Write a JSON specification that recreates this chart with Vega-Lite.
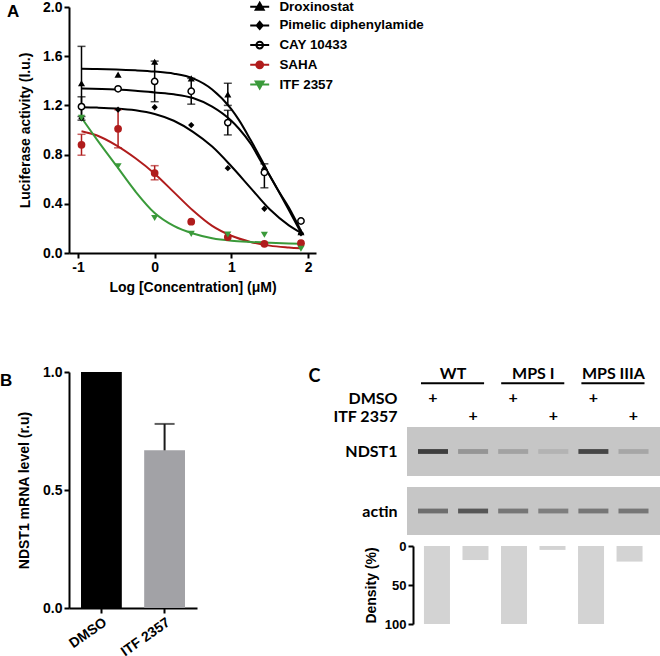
{
  "$schema": "https://vega.github.io/schema/vega-lite/v6.json",
  "padding": {"left": 0, "top": 0, "right": 0, "bottom": 0},
  "config": {
    "font": "Liberation Sans",
    "view": {"stroke": null},
    "axis": {"domainColor": "#000", "domainWidth": 2, "tickColor": "#000", "tickWidth": 2, "tickSize": 5, "labelColor": "#000", "labelFont": "Liberation Sans", "labelFontSize": 14, "labelFontWeight": "bold", "titleColor": "#000", "titleFont": "Liberation Sans", "titleFontSize": 14, "titleFontWeight": "bold", "grid": false, "labelPadding": 2},
    "title": {"color": "#000"}
  },
  "resolve": {"scale": {"color": "independent", "fill": "independent", "stroke": "independent", "shape": "independent", "opacity": "independent"}},
  "datasets": {
    "curves": [
      {"series": "Droxinostat", "x": -0.954, "y": 1.497}, {"series": "Droxinostat", "x": -0.75, "y": 1.496}, {"series": "Droxinostat", "x": -0.5, "y": 1.492}, {"series": "Droxinostat", "x": -0.25, "y": 1.485}, {"series": "Droxinostat", "x": 0, "y": 1.475}, {"series": "Droxinostat", "x": 0.25, "y": 1.458}, {"series": "Droxinostat", "x": 0.5, "y": 1.42}, {"series": "Droxinostat", "x": 0.75, "y": 1.33}, {"series": "Droxinostat", "x": 1.0, "y": 1.17}, {"series": "Droxinostat", "x": 1.1, "y": 1.08}, {"series": "Droxinostat", "x": 1.25, "y": 0.92}, {"series": "Droxinostat", "x": 1.4, "y": 0.75}, {"series": "Droxinostat", "x": 1.5, "y": 0.63}, {"series": "Droxinostat", "x": 1.6, "y": 0.52}, {"series": "Droxinostat", "x": 1.75, "y": 0.35}, {"series": "Droxinostat", "x": 1.908, "y": 0.165},
      {"series": "Pimelic diphenylamide", "x": -0.954, "y": 1.185}, {"series": "Pimelic diphenylamide", "x": -0.75, "y": 1.182}, {"series": "Pimelic diphenylamide", "x": -0.5, "y": 1.175}, {"series": "Pimelic diphenylamide", "x": -0.25, "y": 1.16}, {"series": "Pimelic diphenylamide", "x": 0, "y": 1.13}, {"series": "Pimelic diphenylamide", "x": 0.25, "y": 1.075}, {"series": "Pimelic diphenylamide", "x": 0.5, "y": 0.985}, {"series": "Pimelic diphenylamide", "x": 0.75, "y": 0.865}, {"series": "Pimelic diphenylamide", "x": 1.0, "y": 0.705}, {"series": "Pimelic diphenylamide", "x": 1.25, "y": 0.53}, {"series": "Pimelic diphenylamide", "x": 1.5, "y": 0.355}, {"series": "Pimelic diphenylamide", "x": 1.75, "y": 0.225}, {"series": "Pimelic diphenylamide", "x": 1.908, "y": 0.165},
      {"series": "CAY 10433", "x": -0.954, "y": 1.338}, {"series": "CAY 10433", "x": -0.5, "y": 1.33}, {"series": "CAY 10433", "x": -0.25, "y": 1.32}, {"series": "CAY 10433", "x": 0, "y": 1.305}, {"series": "CAY 10433", "x": 0.25, "y": 1.29}, {"series": "CAY 10433", "x": 0.5, "y": 1.26}, {"series": "CAY 10433", "x": 0.75, "y": 1.19}, {"series": "CAY 10433", "x": 1.0, "y": 1.075}, {"series": "CAY 10433", "x": 1.1, "y": 1.01}, {"series": "CAY 10433", "x": 1.25, "y": 0.89}, {"series": "CAY 10433", "x": 1.4, "y": 0.73}, {"series": "CAY 10433", "x": 1.5, "y": 0.63}, {"series": "CAY 10433", "x": 1.6, "y": 0.52}, {"series": "CAY 10433", "x": 1.75, "y": 0.37}, {"series": "CAY 10433", "x": 1.908, "y": 0.18},
      {"series": "SAHA", "x": -0.954, "y": 0.99}, {"series": "SAHA", "x": -0.75, "y": 0.955}, {"series": "SAHA", "x": -0.5, "y": 0.875}, {"series": "SAHA", "x": -0.25, "y": 0.77}, {"series": "SAHA", "x": 0, "y": 0.645}, {"series": "SAHA", "x": 0.25, "y": 0.495}, {"series": "SAHA", "x": 0.5, "y": 0.345}, {"series": "SAHA", "x": 0.75, "y": 0.22}, {"series": "SAHA", "x": 1.0, "y": 0.14}, {"series": "SAHA", "x": 1.25, "y": 0.09}, {"series": "SAHA", "x": 1.5, "y": 0.06}, {"series": "SAHA", "x": 1.75, "y": 0.045}, {"series": "SAHA", "x": 1.908, "y": 0.038},
      {"series": "ITF 2357", "x": -0.954, "y": 1.1}, {"series": "ITF 2357", "x": -0.75, "y": 0.92}, {"series": "ITF 2357", "x": -0.5, "y": 0.71}, {"series": "ITF 2357", "x": -0.25, "y": 0.5}, {"series": "ITF 2357", "x": 0, "y": 0.325}, {"series": "ITF 2357", "x": 0.25, "y": 0.22}, {"series": "ITF 2357", "x": 0.5, "y": 0.158}, {"series": "ITF 2357", "x": 0.75, "y": 0.12}, {"series": "ITF 2357", "x": 1.0, "y": 0.1}, {"series": "ITF 2357", "x": 1.25, "y": 0.09}, {"series": "ITF 2357", "x": 1.5, "y": 0.083}, {"series": "ITF 2357", "x": 1.75, "y": 0.078}, {"series": "ITF 2357", "x": 1.908, "y": 0.076}
    ],
    "pts": [
      {"series": "Droxinostat", "x": -0.954, "y": 1.38}, {"series": "Droxinostat", "x": -0.477, "y": 1.45}, {"series": "Droxinostat", "x": 0, "y": 1.555}, {"series": "Droxinostat", "x": 0.477, "y": 1.42}, {"series": "Droxinostat", "x": 0.954, "y": 1.29}, {"series": "Droxinostat", "x": 1.431, "y": 0.7}, {"series": "Droxinostat", "x": 1.908, "y": 0.17},
      {"series": "Pimelic diphenylamide", "x": -0.954, "y": 1.095}, {"series": "Pimelic diphenylamide", "x": -0.477, "y": 1.165}, {"series": "Pimelic diphenylamide", "x": 0, "y": 1.185}, {"series": "Pimelic diphenylamide", "x": 0.477, "y": 1.04}, {"series": "Pimelic diphenylamide", "x": 0.954, "y": 0.69}, {"series": "Pimelic diphenylamide", "x": 1.431, "y": 0.36}, {"series": "Pimelic diphenylamide", "x": 1.908, "y": 0.16},
      {"series": "CAY 10433", "x": -0.954, "y": 1.19}, {"series": "CAY 10433", "x": -0.477, "y": 1.335}, {"series": "CAY 10433", "x": 0, "y": 1.395}, {"series": "CAY 10433", "x": 0.477, "y": 1.315}, {"series": "CAY 10433", "x": 0.954, "y": 1.06}, {"series": "CAY 10433", "x": 1.431, "y": 0.655}, {"series": "CAY 10433", "x": 1.908, "y": 0.26},
      {"series": "SAHA", "x": -0.954, "y": 0.88}, {"series": "SAHA", "x": -0.477, "y": 1.01}, {"series": "SAHA", "x": 0, "y": 0.65}, {"series": "SAHA", "x": 0.477, "y": 0.255}, {"series": "SAHA", "x": 0.954, "y": 0.13}, {"series": "SAHA", "x": 1.431, "y": 0.075}, {"series": "SAHA", "x": 1.908, "y": 0.08},
      {"series": "ITF 2357", "x": -0.954, "y": 1.1}, {"series": "ITF 2357", "x": -0.477, "y": 0.705}, {"series": "ITF 2357", "x": 0, "y": 0.285}, {"series": "ITF 2357", "x": 0.477, "y": 0.155}, {"series": "ITF 2357", "x": 0.954, "y": 0.15}, {"series": "ITF 2357", "x": 1.431, "y": 0.148}, {"series": "ITF 2357", "x": 1.908, "y": 0.035}
    ],
    "errs": [
      {"series": "Droxinostat", "x": -0.954, "y": 1.38, "eup": 0.3, "edn": -0.3},
      {"series": "Droxinostat", "x": 0.954, "y": 1.29, "eup": 0.09, "edn": -0.09},
      {"series": "CAY 10433", "x": -0.954, "y": 1.19, "eup": 0.08, "edn": -0.08},
      {"series": "CAY 10433", "x": 0, "y": 1.395, "eup": 0.165, "edn": -0.165},
      {"series": "CAY 10433", "x": 0.477, "y": 1.315, "eup": 0.105, "edn": -0.105},
      {"series": "CAY 10433", "x": 0.954, "y": 1.06, "eup": 0.1, "edn": -0.1},
      {"series": "CAY 10433", "x": 1.431, "y": 0.655, "eup": 0.07, "edn": -0.125},
      {"series": "SAHA", "x": -0.954, "y": 0.88, "eup": 0.085, "edn": -0.085},
      {"series": "SAHA", "x": -0.477, "y": 1.01, "eup": 0.155, "edn": -0.155},
      {"series": "SAHA", "x": 0, "y": 0.65, "eup": 0.06, "edn": -0.055}
    ],
    "mrna": [
      {"cond": "DMSO", "value": 1.0},
      {"cond": "ITF 2357", "value": 0.668, "hi": 0.78}
    ],
    "lanes": [
      {"lane": 0, "group": "WT", "treat": "DMSO"},
      {"lane": 1, "group": "WT", "treat": "ITF 2357"},
      {"lane": 2, "group": "MPS I", "treat": "DMSO"},
      {"lane": 3, "group": "MPS I", "treat": "ITF 2357"},
      {"lane": 4, "group": "MPS IIIA", "treat": "DMSO"},
      {"lane": 5, "group": "MPS IIIA", "treat": "ITF 2357"}
    ],
    "gel": [
      {"gel": "NDST1", "lane": 0, "intensity": 0.85}, {"gel": "NDST1", "lane": 1, "intensity": 0.3}, {"gel": "NDST1", "lane": 2, "intensity": 0.22}, {"gel": "NDST1", "lane": 3, "intensity": 0.12}, {"gel": "NDST1", "lane": 4, "intensity": 0.8}, {"gel": "NDST1", "lane": 5, "intensity": 0.2},
      {"gel": "actin", "lane": 0, "intensity": 0.55}, {"gel": "actin", "lane": 1, "intensity": 0.7}, {"gel": "actin", "lane": 2, "intensity": 0.5}, {"gel": "actin", "lane": 3, "intensity": 0.45}, {"gel": "actin", "lane": 4, "intensity": 0.5}, {"gel": "actin", "lane": 5, "intensity": 0.5}
    ],
    "density": [
      {"lane": 0, "density": 100}, {"lane": 1, "density": 18}, {"lane": 2, "density": 100}, {"lane": 3, "density": 5}, {"lane": 4, "density": 100}, {"lane": 5, "density": 20}
    ]
  },
  "spacing": 71,
  "vconcat": [
    {
      "width": 247,
      "height": 246,
      "title": {"text": "A", "anchor": "start", "frame": "bounds", "orient": "top", "offset": -21, "dx": -11, "fontSize": 17, "fontWeight": "bold", "font": "Liberation Sans"},
      "encoding": {
        "x": {"field": "x", "type": "quantitative", "scale": {"domain": [-1.117, 2.104], "nice": false, "zero": false}, "axis": {"values": [-1, 0, 1, 2], "labelExpr": "'' + datum.value", "title": "Log [Concentration] (μM)", "titlePadding": 6}},
        "y": {"field": "y", "type": "quantitative", "scale": {"domain": [0, 2], "nice": false}, "axis": {"values": [0, 0.4, 0.8, 1.2, 1.6, 2.0], "format": ".1f", "title": "Luciferase activity (l.u.)", "titlePadding": 10.5}}
      },
      "resolve": {"scale": {"color": "independent", "fill": "independent", "stroke": "independent", "shape": "independent"}},
      "layer": [
        {
          "data": {"name": "curves"},
          "mark": {"type": "line", "interpolate": "monotone", "strokeWidth": 2},
          "encoding": {"color": {"field": "series", "type": "nominal", "scale": {"domain": ["Droxinostat", "Pimelic diphenylamide", "CAY 10433", "SAHA", "ITF 2357"], "range": ["#000000", "#000000", "#000000", "#b01c1c", "#3a9a3a"]}, "legend": null}}
        },
        {
          "data": {"name": "errs"},
          "mark": {"type": "errorbar", "ticks": {"size": 8}, "thickness": 1.5},
          "encoding": {"yError": {"field": "eup"}, "yError2": {"field": "edn"}, "color": {"field": "series", "type": "nominal", "scale": {"domain": ["Droxinostat", "Pimelic diphenylamide", "CAY 10433", "SAHA", "ITF 2357"], "range": ["#000000", "#000000", "#000000", "#b01c1c", "#3a9a3a"]}, "legend": null}}
        },
        {
          "data": {"name": "pts"},
          "transform": [{"filter": "datum.series === 'Droxinostat'"}],
          "mark": {"type": "point", "shape": "triangle-up", "filled": true, "color": "#000000", "size": 50, "opacity": 1}
        },
        {
          "data": {"name": "pts"},
          "transform": [{"filter": "datum.series === 'Pimelic diphenylamide'"}],
          "mark": {"type": "point", "shape": "diamond", "filled": true, "color": "#000000", "size": 40, "opacity": 1}
        },
        {
          "data": {"name": "pts"},
          "transform": [{"filter": "datum.series === 'CAY 10433'"}],
          "mark": {"type": "point", "shape": "circle", "fill": "#ffffff", "stroke": "#000000", "strokeWidth": 1.5, "size": 40, "opacity": 1}
        },
        {
          "data": {"name": "pts"},
          "transform": [{"filter": "datum.series === 'SAHA'"}],
          "mark": {"type": "point", "shape": "circle", "filled": true, "color": "#b01c1c", "size": 60, "opacity": 1}
        },
        {
          "data": {"name": "pts"},
          "transform": [{"filter": "datum.series === 'ITF 2357'"}],
          "mark": {"type": "point", "shape": "triangle-down", "filled": true, "color": "#3a9a3a", "size": 50, "opacity": 1}
        },
        {
          "data": {"name": "pts"},
          "mark": {"type": "point", "filled": true, "opacity": 0},
          "encoding": {
            "fill": {"field": "series", "type": "nominal", "scale": {"domain": ["Droxinostat", "Pimelic diphenylamide", "CAY 10433", "SAHA", "ITF 2357"], "range": ["#000000", "#000000", "#ffffff", "#b01c1c", "#3a9a3a"]}, "legend": {"orient": "none", "legendX": 184, "legendY": -7, "title": null, "symbolSize": 90, "symbolStrokeWidth": 2, "symbolFillColor": "#000", "symbolStrokeColor": "#000", "symbolOpacity": 1, "labelFont": "Liberation Sans", "labelFontSize": 13.4, "labelFontWeight": "bold", "labelColor": "#000", "rowPadding": 3.7, "labelOffset": 13, "padding": 0}},
            "stroke": {"field": "series", "type": "nominal", "scale": {"domain": ["Droxinostat", "Pimelic diphenylamide", "CAY 10433", "SAHA", "ITF 2357"], "range": ["#000000", "#000000", "#000000", "#b01c1c", "#3a9a3a"]}, "legend": {"orient": "none", "legendX": 184, "legendY": -7, "title": null, "symbolSize": 90, "symbolStrokeWidth": 2, "symbolFillColor": "#000", "symbolStrokeColor": "#000", "symbolOpacity": 1, "labelFont": "Liberation Sans", "labelFontSize": 13.4, "labelFontWeight": "bold", "labelColor": "#000", "rowPadding": 3.7, "labelOffset": 13, "padding": 0}},
            "shape": {"field": "series", "type": "nominal", "scale": {"domain": ["Droxinostat", "Pimelic diphenylamide", "CAY 10433", "SAHA", "ITF 2357"], "range": ["M-2,0H2M0,-0.84L0.84,0.64L-0.84,0.64Z", "M-2,0H2M0,-0.76L0.64,0L0,0.76L-0.64,0Z", "M-2,0H2M-0.7,0A0.7,0.7,0,1,1,0.7,0A0.7,0.7,0,1,1,-0.7,0Z", "M-2,0H2M-0.72,0A0.72,0.72,0,1,1,0.72,0A0.72,0.72,0,1,1,-0.72,0Z", "M-2,0H2M0,0.84L0.84,-0.64L-0.84,-0.64Z"]}, "legend": {"orient": "none", "legendX": 184, "legendY": -7, "title": null, "symbolSize": 90, "symbolStrokeWidth": 2, "symbolFillColor": "#000", "symbolStrokeColor": "#000", "symbolOpacity": 1, "labelFont": "Liberation Sans", "labelFontSize": 13.4, "labelFontWeight": "bold", "labelColor": "#000", "rowPadding": 3.7, "labelOffset": 13, "padding": 0}}
          }
        }
      ]
    },
    {
      "spacing": 111,
      "resolve": {"scale": {"color": "independent", "fill": "independent", "stroke": "independent", "shape": "independent", "opacity": "independent"}},
      "hconcat": [
        {
          "width": 128,
          "height": 236,
          "title": {"text": "B", "anchor": "start", "frame": "bounds", "orient": "top", "offset": -25, "dx": -17, "fontSize": 17, "fontWeight": "bold", "font": "Liberation Sans"},
          "data": {"name": "mrna"},
          "encoding": {
            "x": {"field": "cond", "type": "nominal", "sort": null, "scale": {"paddingInner": 0.354, "paddingOuter": 0.19}, "axis": {"title": null, "labelAngle": -35}}
          },
          "layer": [
            {
              "mark": {"type": "bar"},
              "encoding": {
                "y": {"field": "value", "type": "quantitative", "scale": {"domain": [0, 1], "nice": false}, "axis": {"values": [0, 0.5, 1], "format": ".1f", "title": "NDST1 mRNA level (r.u)", "titlePadding": 11.5}},
                "color": {"field": "cond", "type": "nominal", "scale": {"domain": ["DMSO", "ITF 2357"], "range": ["#000000", "#a2a2a6"]}, "legend": null}
              }
            },
            {
              "transform": [{"filter": "isValid(datum.hi)"}],
              "mark": {"type": "rule", "color": "#1a1a1a", "strokeWidth": 2},
              "encoding": {"y": {"field": "value", "type": "quantitative"}, "y2": {"field": "hi"}}
            },
            {
              "transform": [{"filter": "isValid(datum.hi)"}],
              "mark": {"type": "tick", "color": "#1a1a1a", "thickness": 2, "size": 20},
              "encoding": {"y": {"field": "hi", "type": "quantitative"}}
            }
          ]
        },
        {
          "bounds": "flush",
          "spacing": 11,
          "vconcat": [
            {
              "width": 253,
              "height": 44,
              "data": {"name": "lanes"},
              "encoding": {
                "y": {"field": "treat", "type": "ordinal", "scale": {"type": "point", "domain": ["group", "DMSO", "ITF 2357"], "padding": 0.23, "align": 1}, "axis": {"orient": "left", "domain": false, "ticks": false, "labelPadding": 10, "labelFont": "Lato", "labelFontSize": 16, "labelExpr": "datum.value == 'group' ? '' : datum.value", "title": "C", "titleAngle": 0, "titleX": -99, "titleY": -5, "titleAlign": "left", "titleBaseline": "top", "titleFont": "Lato", "titleFontSize": 18}}
              },
              "layer": [
                {
                  "mark": {"type": "text", "font": "Lato", "fontSize": 16, "fontWeight": "bold", "color": "#000"},
                  "encoding": {"x": {"field": "lane", "type": "quantitative", "scale": {"domain": [-0.648, 5.661], "nice": false, "zero": false}, "axis": null}, "text": {"value": "+"}}
                },
                {
                  "transform": [{"aggregate": [{"op": "mean", "field": "lane", "as": "center"}], "groupby": ["group"]}],
                  "mark": {"type": "text", "font": "Lato", "fontSize": 16, "fontWeight": "bold", "color": "#000", "baseline": "alphabetic", "dy": -1},
                  "encoding": {"x": {"field": "center", "type": "quantitative", "axis": null}, "y": {"datum": "group", "type": "ordinal"}, "text": {"field": "group"}}
                },
                {
                  "transform": [{"aggregate": [{"op": "min", "field": "lane", "as": "first"}, {"op": "max", "field": "lane", "as": "last"}], "groupby": ["group"]}],
                  "mark": {"type": "rule", "color": "#000", "strokeWidth": 2, "xOffset": -12, "x2Offset": 11, "yOffset": 3},
                  "encoding": {"x": {"field": "first", "type": "quantitative", "axis": null}, "x2": {"field": "last"}, "y": {"datum": "group", "type": "ordinal"}}
                }
              ]
            },
            {
              "width": 253,
              "height": 49,
              "view": {"fill": "#c6c6c6", "stroke": null},
              "data": {"name": "gel"},
              "transform": [{"filter": "datum.gel === 'NDST1'"}],
              "mark": {"type": "point", "shape": "M-1,-0.16H1V0.16H-1Z", "size": 900, "filled": true, "color": "#262626"},
              "encoding": {
                "x": {"field": "lane", "type": "quantitative", "scale": {"domain": [-0.648, 5.661], "nice": false, "zero": false}, "axis": null},
                "y": {"field": "gel", "type": "nominal", "axis": {"domain": false, "ticks": false, "labelPadding": 10, "labelFont": "Lato", "labelFontSize": 16, "title": null}},
                "opacity": {"field": "intensity", "type": "quantitative", "scale": {"domain": [0, 1], "range": [0, 1]}, "legend": null}
              }
            },
            {
              "width": 253,
              "height": 48,
              "view": {"fill": "#c6c6c6", "stroke": null},
              "data": {"name": "gel"},
              "transform": [{"filter": "datum.gel === 'actin'"}],
              "mark": {"type": "point", "shape": "M-1,-0.16H1V0.16H-1Z", "size": 900, "filled": true, "color": "#262626"},
              "encoding": {
                "x": {"field": "lane", "type": "quantitative", "scale": {"domain": [-0.648, 5.661], "nice": false, "zero": false}, "axis": null},
                "y": {"field": "gel", "type": "nominal", "axis": {"domain": false, "ticks": false, "labelPadding": 10, "labelFont": "Lato", "labelFontSize": 16, "title": null}},
                "opacity": {"field": "intensity", "type": "quantitative", "scale": {"domain": [0, 1], "range": [0, 1]}, "legend": null}
              }
            },
            {
              "width": 253,
              "height": 78,
              "data": {"name": "density"},
              "mark": {"type": "bar", "width": 26, "color": "#d3d3d3"},
              "encoding": {
                "x": {"field": "lane", "type": "quantitative", "scale": {"domain": [-0.648, 5.661], "nice": false, "zero": false}, "axis": null},
                "y": {"field": "density", "type": "quantitative", "scale": {"domain": [0, 100], "reverse": true, "nice": false}, "axis": {"values": [0, 50, 100], "offset": -6, "title": "Density (%)", "labelFontSize": 13, "titlePadding": 6}}
              }
            }
          ]
        }
      ]
    }
  ]
}
